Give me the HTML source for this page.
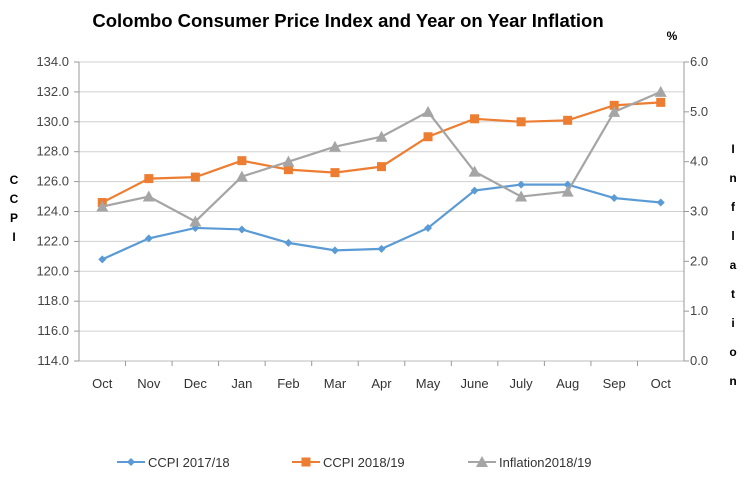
<!DOCTYPE html>
<html><head><meta charset="utf-8"><style>
body{margin:0;background:#fff;width:750px;height:482px;overflow:hidden;font-family:"Liberation Sans",sans-serif}
svg text{font-family:"Liberation Sans",sans-serif}
</style></head><body>
<svg id="c" width="750" height="482">
<text x="348" y="27" text-anchor="middle" font-size="18.5" font-weight="bold">Colombo Consumer Price Index and Year on Year Inflation</text>
<text x="672" y="40" text-anchor="middle" font-size="12" font-weight="bold">%</text>
<g id="grid"></g><g id="axes"></g><g id="series"></g>
<g font-size="12" font-weight="bold" text-anchor="middle">
<text x="14" y="184">C</text><text x="14" y="203">C</text><text x="14" y="222">P</text><text x="14" y="241">I</text>
</g>
<g font-size="12" font-weight="bold" text-anchor="middle">
<text x="733" y="153">I</text><text x="733" y="182">n</text><text x="733" y="211">f</text><text x="733" y="240">l</text><text x="733" y="269">a</text><text x="733" y="298">t</text><text x="733" y="327">i</text><text x="733" y="356">o</text><text x="733" y="385">n</text>
</g>
<g id="legend"></g>
</svg>
<script>
const categories=["Oct","Nov","Dec","Jan","Feb","Mar","Apr","May","June","July","Aug","Sep","Oct"];
const ccpi1718=[120.8,122.2,122.9,122.8,121.9,121.4,121.5,122.9,125.4,125.8,125.8,124.9,124.6];
const ccpi1819=[124.6,126.2,126.3,127.4,126.8,126.6,127.0,129.0,130.2,130.0,130.1,131.1,131.3];
const inflation=[3.1,3.3,2.8,3.7,4.0,4.3,4.5,5.0,3.8,3.3,3.4,5.0,5.4];
const leftTicks=[114,116,118,120,122,124,126,128,130,132,134];
const rightTicks=[0,1,2,3,4,5,6];
const NS="http://www.w3.org/2000/svg";
const L=79,R=684,T=62,B=361;
const xs=i=>L+(i+0.5)*(R-L)/categories.length;
const yl=v=>B-(v-114)/(134-114)*(B-T);
const yr=v=>B-v/6*(B-T);
function mk(tag,attrs,parent){const e=document.createElementNS(NS,tag);for(const k in attrs)e.setAttribute(k,attrs[k]);document.getElementById(parent).appendChild(e);return e;}
leftTicks.forEach(t=>{
 const g=mk('line',{x1:L,x2:R,y1:yl(t),y2:yl(t),stroke:t===114?'#bbb':'#d0d0d0','stroke-width':1},'grid');
 
 
 mk('line',{x1:L-5,x2:L,y1:yl(t),y2:yl(t),stroke:'#999'},'axes');
 const tx=mk('text',{x:L-10,y:yl(t)+4,'text-anchor':'end','font-size':13,fill:'#444'},'axes');tx.textContent=t.toFixed(1);
 
 
});
rightTicks.forEach(t=>{
 mk('line',{x1:R,x2:R+5,y1:yr(t),y2:yr(t),stroke:'#999'},'axes');
 const tx=mk('text',{x:R+6,y:yr(t)+4,'font-size':13,fill:'#444'},'axes');tx.textContent=t.toFixed(1);
 
 
});
mk('line',{x1:L,x2:L,y1:T,y2:B,stroke:'#999'},'axes');
mk('line',{x1:R,x2:R,y1:T,y2:B,stroke:'#999'},'axes');
categories.forEach((c,i)=>{
 const xb=L+i*(R-L)/categories.length;
 if(i>0)mk('line',{x1:xb,x2:xb,y1:B,y2:B+5,stroke:'#999'},'axes');
 const tx=mk('text',{x:xs(i),y:B+27,'text-anchor':'middle','font-size':13,fill:'#333'},'axes');tx.textContent=c;
 
 
});
function marker(x,y,type,col,p){
 if(type==='d')return mk('polygon',{points:`${x},${y-4} ${x+4},${y} ${x},${y+4} ${x-4},${y}`,fill:col},p);
 if(type==='s')return mk('rect',{x:x-4.5,y:y-4.5,width:9,height:9,fill:col},p);
 return mk('polygon',{points:`${x},${y-6} ${x+6},${y+5} ${x-6},${y+5}`,fill:col},p);
}
function series(vals,yf,col,type,name){
 const pl=mk('polyline',{points:vals.map((v,i)=>xs(i)+','+yf(v)).join(' '),fill:'none',stroke:col,'stroke-width':2.2},'series');
 
 
 vals.forEach((v,i)=>{const m=marker(xs(i),yf(v),type,col,'series');
 
 });
}
series(ccpi1718,yl,'#5b9bd5','d','ccpi-2017-18');
series(ccpi1819,yl,'#ed7d31','s','ccpi-2018-19');
series(inflation,yr,'#a5a5a5','t','inflation-2018-19');
const legend=[["CCPI 2017/18",'#5b9bd5','d',117],["CCPI 2018/19",'#ed7d31','s',292],["Inflation2018/19",'#a5a5a5','t',468]];
legend.forEach(l=>{
 const y=462;
 mk('line',{x1:l[3],x2:l[3]+28,y1:y,y2:y,stroke:l[1],'stroke-width':2},'legend');
 marker(l[3]+14,y,l[2],l[1],'legend');
 const tx=mk('text',{x:l[3]+31,y:y+5,'font-size':13,fill:'#333'},'legend');tx.textContent=l[0];
 
 
});
</script>
</body></html>
